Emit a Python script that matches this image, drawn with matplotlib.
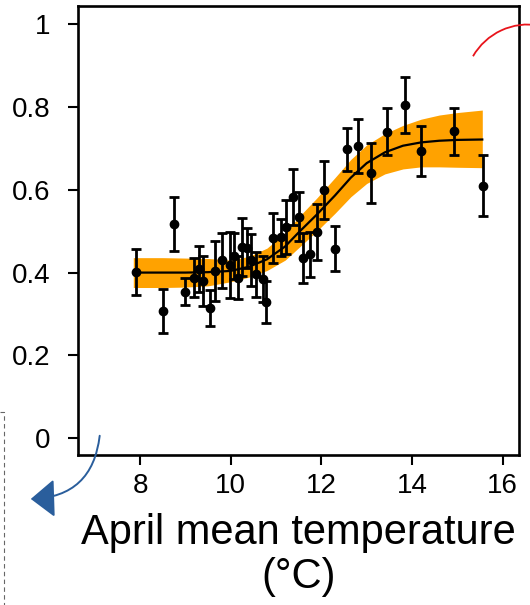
import numpy as np
import matplotlib
matplotlib.use("Agg")
import matplotlib.pyplot as plt
from matplotlib.patches import Arc, FancyArrowPatch
from matplotlib.lines import Line2D

plt.rcParams['font.family'] = ['Liberation Sans', 'DejaVu Sans']

# site means with standard errors
temp = [7.90, 8.51, 8.75, 9.00, 9.18, 9.29, 9.39, 9.54, 9.66, 9.81,
        9.98, 10.07, 10.15, 10.24, 10.35, 10.45, 10.56, 10.71, 10.78, 10.93,
        11.11, 11.21, 11.38, 11.51, 11.60, 11.74, 11.90, 12.06, 12.30, 12.56,
        12.81, 13.09, 13.44, 13.85, 14.20, 14.92, 15.57]
prop = [0.402, 0.308, 0.517, 0.354, 0.388, 0.408, 0.380, 0.315, 0.404, 0.430,
        0.418, 0.440, 0.388, 0.462, 0.460, 0.430, 0.396, 0.384, 0.329, 0.483,
        0.485, 0.510, 0.583, 0.535, 0.436, 0.444, 0.498, 0.599, 0.458, 0.697,
        0.705, 0.641, 0.740, 0.804, 0.693, 0.741, 0.610]
err = [0.056, 0.053, 0.066, 0.033, 0.048, 0.056, 0.060, 0.043, 0.072, 0.066,
       0.080, 0.055, 0.052, 0.070, 0.048, 0.062, 0.054, 0.055, 0.050, 0.061,
       0.045, 0.064, 0.068, 0.060, 0.060, 0.054, 0.067, 0.070, 0.055, 0.051,
       0.066, 0.072, 0.057, 0.067, 0.061, 0.057, 0.074]

# fitted curve and its confidence band
fit_x = [7.85, 8.5, 9.0, 9.5, 10.0, 10.4, 10.8, 11.2, 11.5, 11.9,
         12.3, 12.65, 13.0, 13.4, 13.8, 14.2, 14.6, 15.0, 15.55]
fit_y = [0.400, 0.400, 0.400, 0.401, 0.404, 0.414, 0.432, 0.463, 0.497, 0.540,
         0.586, 0.629, 0.664, 0.690, 0.706, 0.714, 0.718, 0.720, 0.721]
band_lo = [0.364, 0.364, 0.365, 0.368, 0.378, 0.389, 0.405, 0.430, 0.460, 0.500,
           0.543, 0.583, 0.615, 0.638, 0.650, 0.655, 0.655, 0.654, 0.653]
band_hi = [0.436, 0.436, 0.435, 0.434, 0.430, 0.439, 0.459, 0.496, 0.534, 0.580,
           0.629, 0.673, 0.708, 0.735, 0.755, 0.770, 0.780, 0.786, 0.792]

xticks = [8, 10, 12, 14, 16]
yticks = [0, 0.2, 0.4, 0.6, 0.8, 1]
ytick_labels = ['0', '0.2', '0.4', '0.6', '0.8', '1']

W, H = 530, 605
fig = plt.figure(figsize=(W / 100, H / 100), dpi=100)
ax = fig.add_axes([78 / W, 1 - 455 / H, 441 / W, 449 / H])

ax.fill_between(fit_x, band_lo, band_hi, color='#FFA200', lw=0, zorder=1)
ax.plot(fit_x, fit_y, color='black', lw=1.6, zorder=2)
ax.errorbar(temp, prop, yerr=err, fmt='o', color='black', ms=6,
            elinewidth=2.0, capsize=3.5, capthick=2.0, zorder=3)

ax.set_xlim(6.63, 16.36)
ax.set_ylim(-0.04, 1.043)
ax.set_xticks(xticks)
ax.set_yticks(yticks)
ax.set_yticklabels(ytick_labels)
ax.tick_params(axis='both', direction='out', length=7, width=1.5,
               labelsize=20, color='black')
ax.tick_params(axis='y', pad=13)
ax.tick_params(axis='x', pad=6)
for sp in ax.spines.values():
    sp.set_linewidth(1.9)

ax.set_xlabel('April mean temperature\n(°C)', fontsize=30, labelpad=10,
              linespacing=1.12)

# annotation marks around the panel
fig.add_artist(Arc((528, H - 88), 127, 127, theta1=80, theta2=150,
                   transform=None, color='#E8141B', lw=1.3))
fig.add_artist(FancyArrowPatch((100, H - 433), (28, H - 499),
                               transform=None, connectionstyle='arc3,rad=-0.45',
                               arrowstyle='-|>,head_length=10,head_width=8',
                               color='#2A5E9C', lw=1.4, mutation_scale=1.5))
fig.add_artist(Line2D([0, 3.5, 3.5], [H - 412, H - 412, 0], transform=None,
                      color='#666666', lw=0.8, ls=(0, (4, 3))))

fig.savefig('out.png', dpi=100)
